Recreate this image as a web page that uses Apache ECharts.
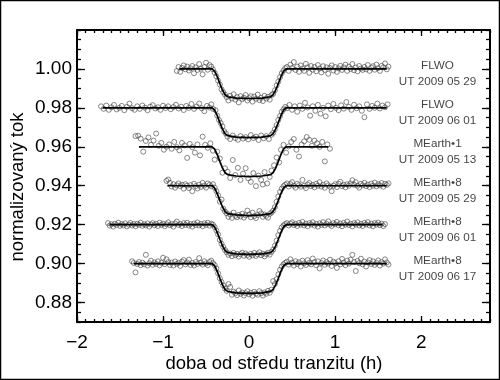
<!DOCTYPE html>
<html>
<head>
<meta charset="utf-8">
<script src="https://cdn.jsdelivr.net/npm/echarts/dist/echarts.min.js"></script>
<style>
html,body{margin:0;padding:0;background:#fff;}
#chart{width:500px;height:380px;}
</style>
</head>
<body>
<div id="chart"></div>
<script>
// ---------- DATA ----------
const xTicks = [-2, -1, 0, 1, 2];
const yTicks = [0.88, 0.90, 0.92, 0.94, 0.96, 0.98, 1.00];

const labelInst = ['FLWO', 'FLWO', 'MEarth\u20221', 'MEarth\u20228', 'MEarth\u20228', 'MEarth\u20228'];
const labelDate = ['UT 2009 05 29', 'UT 2009 06 01', 'UT 2009 05 13', 'UT 2009 05 29', 'UT 2009 06 01', 'UT 2009 06 17'];
const baselines = [1.00, 0.98, 0.96, 0.94, 0.92, 0.90];
const labelX = 2.19;

// model curve times (inner part, shared) and per-curve line extent
const modelT = [-0.43, -0.40, -0.37, -0.34, -0.31, -0.28, -0.25, -0.15, 0, 0.15, 0.25, 0.28, 0.31, 0.34, 0.37, 0.40, 0.43];
const lineStart = [-0.81, -1.70, -1.28, -0.95, -1.62, -1.34];
const lineEnd = [1.60, 1.60, 0.92, 1.60, 1.55, 1.60];
const model1 = [1.0000,1.0000,0.9988,0.9960,0.9925,0.9892,0.9868,0.9857,0.9850,0.9848,0.9850,0.9857,0.9868,0.9892,0.9925,0.9960,0.9988,1.0000,1.0000];
const model2 = [0.9800,0.9800,0.9788,0.9760,0.9725,0.9692,0.9668,0.9657,0.9650,0.9647,0.9650,0.9657,0.9668,0.9692,0.9725,0.9760,0.9788,0.9800,0.9800];
const model3 = [0.9600,0.9600,0.9588,0.9560,0.9525,0.9492,0.9468,0.9457,0.9450,0.9447,0.9450,0.9457,0.9468,0.9492,0.9525,0.9560,0.9588,0.9600,0.9600];
const model4 = [0.9400,0.9400,0.9388,0.9360,0.9325,0.9292,0.9268,0.9257,0.9250,0.9246,0.9250,0.9257,0.9268,0.9292,0.9325,0.9360,0.9388,0.9400,0.9400];
const model5 = [0.9200,0.9200,0.9188,0.9160,0.9125,0.9092,0.9068,0.9057,0.9050,0.9047,0.9050,0.9057,0.9068,0.9092,0.9125,0.9160,0.9188,0.9200,0.9200];
const model6 = [0.9000,0.9000,0.8988,0.8960,0.8925,0.8892,0.8868,0.8857,0.8850,0.8847,0.8850,0.8857,0.8868,0.8892,0.8925,0.8960,0.8988,0.9000,0.9000];

// observed points [time (h), normalized flux]
const flwo0529 = [[-0.84,0.9990],[-0.82,1.0010],[-0.80,0.9985],[-0.78,1.0005],[-0.76,1.0018],[-0.74,0.9998],[-0.72,1.0012],[-0.70,0.9992],[-0.68,1.0003],[-0.66,1.0015],[-0.64,0.9978],[-0.62,1.0008],[-0.60,0.9995],[-0.58,1.0025],[-0.56,1.0001],[-0.54,0.9972],[-0.52,1.0010],[-0.50,1.0032],[-0.48,0.9996],[-0.46,1.0020],[-0.44,1.0012],
[-0.42,0.9998],[-0.40,0.9980],[-0.38,0.9962],[-0.36,0.9940],[-0.34,0.9920],[-0.32,0.9895],[-0.30,0.9880],[-0.28,0.9868],
[-0.26,0.9855],[-0.24,0.9838],[-0.22,0.9862],[-0.20,0.9848],[-0.18,0.9870],[-0.16,0.9842],[-0.14,0.9855],[-0.12,0.9828],[-0.10,0.9860],[-0.08,0.9845],[-0.06,0.9852],[-0.04,0.9866],[-0.02,0.9838],[0.00,0.9850],[0.02,0.9860],[0.04,0.9832],[0.06,0.9858],[0.08,0.9846],[0.10,0.9868],[0.12,0.9840],[0.14,0.9852],[0.16,0.9835],[0.18,0.9862],[0.20,0.9848],[0.22,0.9857],[0.24,0.9842],[0.26,0.9866],
[0.28,0.9872],[0.30,0.9890],[0.32,0.9915],[0.34,0.9935],[0.36,0.9958],[0.38,0.9978],[0.40,0.9992],[0.42,1.0004],
[0.44,1.0010],[0.46,0.9990],[0.48,1.0022],[0.50,1.0005],[0.52,1.0035],[0.54,0.9995],[0.56,1.0012],[0.58,0.9985],[0.60,1.0018],[0.62,1.0002],[0.64,0.9990],[0.66,1.0026],[0.68,1.0008],[0.70,0.9980],[0.72,1.0015],[0.74,0.9996],[0.76,1.0010],[0.78,0.9988],[0.80,1.0020],[0.82,1.0002],[0.84,0.9982],[0.86,1.0014],[0.88,0.9995],[0.90,1.0008],[0.92,0.9975],[0.94,1.0005],[0.96,1.0018],[0.98,0.9992],[1.00,1.0010],[1.02,0.9985],[1.04,1.0003],[1.06,1.0016],[1.08,0.9995],[1.10,1.0008],[1.12,1.0022],[1.14,0.9990],[1.16,1.0012],[1.18,1.0000],[1.20,1.0025],[1.22,0.9993],[1.24,1.0007],[1.26,0.9988],[1.28,1.0015],[1.30,1.0002],[1.32,0.9995],[1.34,1.0010],[1.36,0.9998],[1.38,1.0020],[1.40,0.9990],[1.42,1.0006],[1.44,1.0014],[1.46,0.9996],[1.48,1.0022],[1.50,1.0004],[1.52,0.9990],[1.54,1.0016],[1.56,1.0008],[1.58,1.0028],[1.60,0.9998],[1.62,1.0012]];

const flwo0601 = [[-1.72,0.9808],[-1.69,0.9795],[-1.66,0.9812],[-1.63,0.9790],[-1.60,0.9803],[-1.57,0.9815],[-1.54,0.9792],[-1.51,0.9800],[-1.48,0.9810],[-1.45,0.9788],[-1.42,0.9805],[-1.39,0.9822],[-1.36,0.9798],[-1.33,0.9790],[-1.30,0.9808],[-1.27,0.9795],[-1.24,0.9812],[-1.21,0.9801],[-1.18,0.9788],[-1.15,0.9806],[-1.12,0.9814],[-1.09,0.9797],[-1.06,0.9803],[-1.03,0.9790],[-1.00,0.9811],[-0.97,0.9799],[-0.94,0.9808],[-0.91,0.9793],[-0.88,0.9804],[-0.85,0.9816],[-0.82,0.9797],[-0.79,0.9806],[-0.76,0.9789],[-0.73,0.9810],[-0.70,0.9800],[-0.67,0.9820],[-0.64,0.9795],[-0.61,0.9807],[-0.58,0.9822],[-0.55,0.9798],[-0.52,0.9783],[-0.49,0.9810],[-0.46,0.9802],[-0.44,0.9818],
[-0.42,0.9795],[-0.39,0.9788],[-0.37,0.9760],[-0.35,0.9738],[-0.33,0.9722],[-0.31,0.9705],[-0.29,0.9680],[-0.27,0.9668],
[-0.25,0.9652],[-0.22,0.9640],[-0.19,0.9658],[-0.16,0.9645],[-0.13,0.9636],[-0.10,0.9655],[-0.07,0.9642],[-0.04,0.9650],[-0.01,0.9638],[0.02,0.9660],[0.05,0.9645],[0.08,0.9652],[0.11,0.9635],[0.14,0.9658],[0.17,0.9644],[0.20,0.9655],[0.23,0.9640],[0.26,0.9662],
[0.28,0.9672],[0.30,0.9690],[0.32,0.9712],[0.34,0.9738],[0.36,0.9758],[0.38,0.9780],[0.40,0.9792],[0.42,0.9805],
[0.44,0.9798],[0.47,0.9815],[0.50,0.9790],[0.53,0.9808],[0.56,0.9780],[0.59,0.9812],[0.62,0.9795],[0.65,0.9826],[0.68,0.9802],[0.71,0.9760],[0.74,0.9808],[0.77,0.9785],[0.80,0.9815],[0.83,0.9770],[0.86,0.9800],[0.89,0.9757],[0.92,0.9812],[0.95,0.9793],[0.98,0.9820],[1.01,0.9800],[1.04,0.9788],[1.07,0.9813],[1.10,0.9796],[1.13,0.9830],[1.16,0.9805],[1.19,0.9790],[1.22,0.9816],[1.25,0.9798],[1.28,0.9808],[1.31,0.9785],[1.34,0.9752],[1.37,0.9818],[1.40,0.9795],[1.43,0.9810],[1.46,0.9800],[1.49,0.9822],[1.52,0.9797],[1.55,0.9812],[1.58,0.9803],[1.61,0.9818]];

const mearth1_0513 = [[-1.32,0.9655],[-1.29,0.9657],[-1.26,0.9642],[-1.23,0.9575],[-1.20,0.9630],[-1.17,0.9648],[-1.14,0.9610],[-1.11,0.9632],[-1.08,0.9668],[-1.05,0.9605],[-1.02,0.9620],[-0.99,0.9585],[-0.96,0.9600],[-0.93,0.9612],[-0.90,0.9590],[-0.87,0.9625],[-0.84,0.9598],[-0.81,0.9582],[-0.78,0.9620],[-0.75,0.9607],[-0.72,0.9543],[-0.69,0.9615],[-0.66,0.9598],[-0.63,0.9570],[-0.60,0.9612],[-0.57,0.9556],[-0.54,0.9652],[-0.51,0.9610],[-0.48,0.9595],[-0.45,0.9618],[-0.42,0.9580],
[-0.40,0.9534],[-0.37,0.9575],[-0.34,0.9540],[-0.31,0.9467],[-0.28,0.9490],[-0.25,0.9472],
[-0.22,0.9440],[-0.19,0.9532],[-0.16,0.9455],[-0.13,0.9492],[-0.10,0.9430],[-0.07,0.9462],[-0.04,0.9490],[-0.01,0.9438],[0.02,0.9420],[0.05,0.9465],[0.08,0.9398],[0.11,0.9452],[0.14,0.9430],[0.16,0.9406],[0.18,0.9470],[0.21,0.9412],[0.24,0.9445],[0.26,0.9478],
[0.29,0.9505],[0.32,0.9545],[0.35,0.9520],[0.37,0.9585],[0.40,0.9610],[0.43,0.9570],
[0.46,0.9602],[0.49,0.9625],[0.52,0.9640],[0.55,0.9585],[0.58,0.9550],[0.61,0.9612],[0.64,0.9628],[0.67,0.9650],[0.70,0.9636],[0.73,0.9605],[0.76,0.9632],[0.79,0.9618],[0.82,0.9600],[0.85,0.9625],[0.88,0.9525],[0.91,0.9612],[0.94,0.9590]];

const mearth8_0529 = [[-0.96,0.9425],[-0.94,0.9432],[-0.92,0.9415],[-0.90,0.9396],[-0.88,0.9408],[-0.86,0.9390],[-0.84,0.9402],[-0.82,0.9412],[-0.80,0.9398],[-0.78,0.9405],[-0.76,0.9385],[-0.74,0.9408],[-0.72,0.9400],[-0.70,0.9388],[-0.68,0.9403],[-0.66,0.9372],[-0.64,0.9410],[-0.62,0.9398],[-0.60,0.9386],[-0.58,0.9405],[-0.56,0.9394],[-0.54,0.9415],[-0.52,0.9401],[-0.50,0.9390],[-0.48,0.9412],[-0.46,0.9404],[-0.44,0.9397],[-0.42,0.9408],
[-0.40,0.9390],[-0.38,0.9372],[-0.36,0.9350],[-0.34,0.9318],[-0.32,0.9329],[-0.30,0.9282],[-0.28,0.9268],
[-0.26,0.9258],[-0.24,0.9240],[-0.22,0.9252],[-0.20,0.9235],[-0.18,0.9262],[-0.16,0.9245],[-0.14,0.9238],[-0.12,0.9250],[-0.10,0.9242],[-0.08,0.9256],[-0.06,0.9236],[-0.04,0.9248],[-0.02,0.9272],[0.00,0.9252],[0.02,0.9238],[0.04,0.9262],[0.06,0.9244],[0.08,0.9234],[0.10,0.9250],[0.12,0.9270],[0.14,0.9258],[0.16,0.9240],[0.18,0.9252],[0.20,0.9245],[0.22,0.9236],[0.24,0.9255],[0.26,0.9262],
[0.28,0.9272],[0.30,0.9290],[0.32,0.9318],[0.34,0.9345],[0.36,0.9368],[0.38,0.9385],[0.40,0.9398],[0.42,0.9405],
[0.44,0.9412],[0.46,0.9396],[0.48,0.9408],[0.50,0.9418],[0.52,0.9400],[0.54,0.9390],[0.56,0.9410],[0.58,0.9403],[0.60,0.9395],[0.62,0.9430],[0.64,0.9400],[0.66,0.9388],[0.68,0.9406],[0.70,0.9414],[0.72,0.9398],[0.74,0.9404],[0.76,0.9392],[0.78,0.9410],[0.80,0.9400],[0.82,0.9418],[0.84,0.9396],[0.86,0.9405],[0.88,0.9390],[0.90,0.9412],[0.92,0.9402],[0.94,0.9395],[0.96,0.9372],[0.98,0.9400],[1.00,0.9408],[1.02,0.9393],[1.04,0.9410],[1.06,0.9420],[1.08,0.9398],[1.10,0.9405],[1.12,0.9392],[1.14,0.9408],[1.16,0.9400],[1.18,0.9412],[1.20,0.9428],[1.22,0.9405],[1.24,0.9418],[1.26,0.9400],[1.28,0.9390],[1.30,0.9410],[1.32,0.9402],[1.34,0.9415],[1.36,0.9398],[1.38,0.9406],[1.40,0.9393],[1.42,0.9411],[1.44,0.9400],[1.46,0.9416],[1.48,0.9397],[1.50,0.9408],[1.52,0.9402],[1.54,0.9414],[1.56,0.9395],[1.58,0.9410],[1.60,0.9404],[1.62,0.9412]];

const mearth8_0601 = [[-1.64,0.9208],[-1.62,0.9195],[-1.60,0.9202],[-1.58,0.9190],[-1.56,0.9205],[-1.54,0.9198],[-1.52,0.9210],[-1.50,0.9194],[-1.48,0.9203],[-1.46,0.9196],[-1.44,0.9207],[-1.42,0.9191],[-1.40,0.9200],[-1.38,0.9209],[-1.36,0.9196],[-1.34,0.9203],[-1.32,0.9192],[-1.30,0.9205],[-1.28,0.9199],[-1.26,0.9210],[-1.24,0.9194],[-1.22,0.9202],[-1.20,0.9196],[-1.18,0.9206],[-1.16,0.9190],[-1.14,0.9201],[-1.12,0.9208],[-1.10,0.9197],[-1.08,0.9204],[-1.06,0.9193],[-1.04,0.9210],[-1.02,0.9199],[-1.00,0.9205],[-0.98,0.9192],[-0.96,0.9202],[-0.94,0.9212],[-0.92,0.9197],[-0.90,0.9203],[-0.88,0.9190],[-0.86,0.9206],[-0.84,0.9216],[-0.82,0.9198],[-0.80,0.9204],[-0.78,0.9193],[-0.76,0.9208],[-0.74,0.9199],[-0.72,0.9210],[-0.70,0.9195],[-0.68,0.9203],[-0.66,0.9190],[-0.64,0.9206],[-0.62,0.9198],[-0.60,0.9211],[-0.58,0.9196],[-0.56,0.9204],[-0.54,0.9192],[-0.52,0.9207],[-0.50,0.9199],[-0.48,0.9210],[-0.46,0.9195],[-0.44,0.9205],[-0.42,0.9200],
[-0.40,0.9188],[-0.38,0.9170],[-0.36,0.9150],[-0.34,0.9122],[-0.32,0.9102],[-0.30,0.9085],[-0.28,0.9070],
[-0.26,0.9058],[-0.24,0.9045],[-0.22,0.9052],[-0.20,0.9038],[-0.18,0.9055],[-0.16,0.9043],[-0.14,0.9050],[-0.12,0.9036],[-0.10,0.9048],[-0.08,0.9056],[-0.06,0.9040],[-0.04,0.9052],[-0.02,0.9044],[0.00,0.9035],[0.02,0.9050],[0.04,0.9042],[0.06,0.9055],[0.08,0.9039],[0.10,0.9048],[0.12,0.9058],[0.14,0.9043],[0.16,0.9051],[0.18,0.9037],[0.20,0.9049],[0.22,0.9056],[0.24,0.9046],[0.26,0.9060],
[0.28,0.9072],[0.30,0.9092],[0.32,0.9118],[0.34,0.9146],[0.36,0.9168],[0.38,0.9186],[0.40,0.9196],[0.42,0.9203],
[0.44,0.9208],[0.46,0.9196],[0.48,0.9205],[0.50,0.9212],[0.52,0.9198],[0.54,0.9204],[0.56,0.9193],[0.58,0.9209],[0.60,0.9200],[0.62,0.9214],[0.64,0.9196],[0.66,0.9205],[0.68,0.9192],[0.70,0.9208],[0.72,0.9201],[0.74,0.9212],[0.76,0.9195],[0.78,0.9204],[0.80,0.9190],[0.82,0.9207],[0.84,0.9199],[0.86,0.9213],[0.88,0.9196],[0.90,0.9205],[0.92,0.9217],[0.94,0.9200],[0.96,0.9193],[0.98,0.9208],[1.00,0.9202],[1.02,0.9214],[1.04,0.9197],[1.06,0.9206],[1.08,0.9192],[1.10,0.9209],[1.12,0.9200],[1.14,0.9216],[1.16,0.9198],[1.18,0.9205],[1.20,0.9191],[1.22,0.9208],[1.24,0.9200],[1.26,0.9212],[1.28,0.9195],[1.30,0.9204],[1.32,0.9193],[1.34,0.9209],[1.36,0.9201],[1.38,0.9213],[1.40,0.9196],[1.42,0.9205],[1.44,0.9192],[1.46,0.9208],[1.48,0.9200],[1.50,0.9211],[1.52,0.9197],[1.54,0.9205],[1.56,0.9193],[1.58,0.9203]];

const mearth8_0617 = [[-1.36,0.9012],[-1.34,0.9003],[-1.32,0.8955],[-1.30,0.8998],[-1.28,0.9008],[-1.26,0.8992],[-1.24,0.9005],[-1.22,0.8996],[-1.20,0.9045],[-1.18,0.8990],[-1.16,0.9002],[-1.14,0.9015],[-1.12,0.8994],[-1.10,0.9006],[-1.08,0.8998],[-1.06,0.9012],[-1.04,0.8991],[-1.02,0.9004],[-1.00,0.9030],[-0.98,0.8997],[-0.96,0.9022],[-0.94,0.9008],[-0.92,0.8993],[-0.90,0.9005],[-0.88,0.8990],[-0.86,0.9011],[-0.84,0.8998],[-0.82,0.9004],[-0.80,0.8988],[-0.78,0.9010],[-0.76,0.9018],[-0.74,0.8996],[-0.72,0.9006],[-0.70,0.9020],[-0.68,0.8993],[-0.66,0.9003],[-0.64,0.8990],[-0.62,0.9008],[-0.60,0.8998],[-0.58,0.9028],[-0.56,0.9004],[-0.54,0.8995],[-0.52,0.9012],[-0.50,0.9001],[-0.48,0.8992],[-0.46,0.9008],[-0.44,0.9015],[-0.42,0.9003],
[-0.40,0.8992],[-0.38,0.8975],[-0.36,0.8950],[-0.34,0.8925],[-0.32,0.8905],[-0.30,0.8888],[-0.28,0.8872],
[-0.26,0.8860],[-0.24,0.8895],[-0.22,0.8880],[-0.20,0.8840],[-0.18,0.8856],[-0.16,0.8848],[-0.14,0.8838],[-0.12,0.8862],[-0.10,0.8845],[-0.08,0.8852],[-0.06,0.8836],[-0.04,0.8848],[-0.02,0.8858],[0.00,0.8842],[0.02,0.8850],[0.04,0.8835],[0.06,0.8855],[0.08,0.8846],[0.10,0.8840],[0.12,0.8858],[0.14,0.8848],[0.16,0.8836],[0.18,0.8852],[0.20,0.8845],[0.22,0.8860],[0.24,0.8850],[0.26,0.8866],
[0.28,0.8910],[0.30,0.8895],[0.32,0.8920],[0.34,0.8945],[0.36,0.8968],[0.38,0.8985],[0.40,0.8996],[0.42,0.9004],
[0.44,0.9010],[0.46,0.8995],[0.48,0.9022],[0.50,0.9005],[0.52,0.8990],[0.54,0.9012],[0.56,0.8998],[0.58,0.9007],[0.60,0.8985],[0.62,0.9015],[0.64,0.9002],[0.66,0.8993],[0.68,0.9018],[0.70,0.9004],[0.72,0.8996],[0.74,0.9026],[0.76,0.9008],[0.78,0.8992],[0.80,0.9012],[0.82,0.8975],[0.84,0.9003],[0.86,0.9016],[0.88,0.8994],[0.90,0.9008],[0.92,0.9000],[0.94,0.9020],[0.96,0.8988],[0.98,0.9010],[1.00,0.9003],[1.02,0.8978],[1.04,0.9012],[1.06,0.8996],[1.08,0.9024],[1.10,0.9005],[1.12,0.8992],[1.14,0.9015],[1.16,0.9000],[1.18,0.9020],[1.20,0.9045],[1.22,0.9008],[1.24,0.8962],[1.26,0.9014],[1.28,0.9002],[1.30,0.9025],[1.32,0.8996],[1.34,0.9010],[1.36,0.8985],[1.38,0.9006],[1.40,0.9018],[1.42,0.8998],[1.44,0.9012],[1.46,0.8993],[1.48,0.9004],[1.50,0.9016],[1.52,0.8990],[1.54,0.9008],[1.56,0.9000],[1.58,0.9022],[1.60,0.9006],[1.62,0.8995]];

const observations = [flwo0529, flwo0601, mearth1_0513, mearth8_0529, mearth8_0601, mearth8_0617];
const models = [model1, model2, model3, model4, model5, model6];

// ---------- CHART ----------
const FONT = '"Liberation Sans", Arial, Helvetica, sans-serif';
const chart = echarts.init(document.getElementById('chart'), null, {renderer: 'canvas'});

const minusFmt = v => (v < 0 ? '\u2212' + Math.abs(v) : String(v));

const xBase = {type: 'value', min: -2, max: 2.8, gridIndex: 0, splitLine: {show: false}, axisPointer: {show: false}};
const yBase = {type: 'value', min: 0.87, max: 1.02, gridIndex: 0, splitLine: {show: false}, axisPointer: {show: false}};
const lineStyleAxis = {color: '#000', width: 2};
const tickStyle = {color: '#000', width: 1.3};

const xAxes = [
  Object.assign({}, xBase, {position: 'bottom', interval: 0.1,
    axisLine: {show: true, onZero: false, lineStyle: lineStyleAxis},
    axisTick: {show: true, inside: true, length: 3, lineStyle: tickStyle},
    axisLabel: {show: false}}),
  Object.assign({}, xBase, {position: 'bottom',
    axisLine: {show: false, onZero: false},
    axisTick: {show: true, inside: true, length: 6, customValues: xTicks, lineStyle: tickStyle},
    axisLabel: {show: true, customValues: xTicks, formatter: minusFmt, margin: 11, color: '#000', fontSize: 19, fontFamily: FONT}}),
  Object.assign({}, xBase, {position: 'top', interval: 0.1,
    axisLine: {show: true, onZero: false, lineStyle: lineStyleAxis},
    axisTick: {show: true, inside: true, length: 3, lineStyle: tickStyle},
    axisLabel: {show: false}}),
  Object.assign({}, xBase, {position: 'top',
    axisLine: {show: false, onZero: false},
    axisTick: {show: true, inside: true, length: 6, customValues: xTicks, lineStyle: tickStyle},
    axisLabel: {show: false}})
];

const yAxes = [
  Object.assign({}, yBase, {position: 'left', interval: 0.005,
    axisLine: {show: true, onZero: false, lineStyle: lineStyleAxis},
    axisTick: {show: true, inside: true, length: 4, lineStyle: tickStyle},
    axisLabel: {show: false}}),
  Object.assign({}, yBase, {position: 'left',
    axisLine: {show: false, onZero: false},
    axisTick: {show: true, inside: true, length: 8, customValues: yTicks, lineStyle: tickStyle},
    axisLabel: {show: true, customValues: yTicks, formatter: v => v.toFixed(2), margin: 5, color: '#000', fontSize: 19, fontFamily: FONT}}),
  Object.assign({}, yBase, {position: 'right', interval: 0.005,
    axisLine: {show: true, onZero: false, lineStyle: lineStyleAxis},
    axisTick: {show: true, inside: true, length: 4, lineStyle: tickStyle},
    axisLabel: {show: false}}),
  Object.assign({}, yBase, {position: 'right',
    axisLine: {show: false, onZero: false},
    axisTick: {show: true, inside: true, length: 8, customValues: yTicks, lineStyle: tickStyle},
    axisLabel: {show: false}})
];

const series = [];
observations.forEach((obs, i) => {
  series.push({
    type: 'scatter', name: 'obs' + i, xAxisIndex: 0, yAxisIndex: 0,
    data: obs, symbol: 'circle', symbolSize: 5, silent: true, z: 2,
    itemStyle: {color: 'rgba(0,0,0,0)', borderColor: '#444', borderWidth: 0.8}
  });
});
models.forEach((m, i) => {
  const t = [lineStart[i]].concat(modelT, [lineEnd[i]]);
  series.push({
    type: 'line', name: 'model' + i, xAxisIndex: 0, yAxisIndex: 0,
    data: t.map((x, k) => [x, m[k]]), showSymbol: false, symbol: 'none', silent: true, z: 3,
    lineStyle: {color: '#000', width: 1.7}
  });
});
series.push({
  type: 'scatter', name: 'labels', xAxisIndex: 0, yAxisIndex: 0, silent: true, z: 4,
  symbolSize: 1, itemStyle: {color: 'rgba(0,0,0,0)'},
  data: baselines.map((b, i) => ({value: [labelX, b], inst: labelInst[i], date: labelDate[i]})),
  label: {show: true, position: 'inside', offset: [0, 5], color: '#111', fontSize: 11.7, lineHeight: 16, fontFamily: FONT,
    formatter: p => p.data.inst + '\n' + p.data.date}
});

chart.setOption({
  animation: false,
  backgroundColor: '#fff',
  grid: {left: 77, right: 10, top: 30, bottom: 58, containLabel: false},
  xAxis: xAxes,
  yAxis: yAxes,
  series: series,
  graphic: [
    {type: 'rect', shape: {x: 0.5, y: 0.5, width: 499, height: 379}, style: {fill: 'none', stroke: '#000', lineWidth: 1.5}, silent: true},
    {type: 'text', x: 274, y: 364, style: {text: 'doba od středu tranzitu (h)', fill: '#000', font: '18.5px ' + FONT, textAlign: 'center', textVerticalAlign: 'middle'}, silent: true},
    {type: 'text', x: 18, y: 187, rotation: Math.PI / 2, style: {text: 'normalizovaný tok', fill: '#000', font: '18.5px ' + FONT, textAlign: 'center', textVerticalAlign: 'middle'}, silent: true}
  ]
});
</script>
</body>
</html>
